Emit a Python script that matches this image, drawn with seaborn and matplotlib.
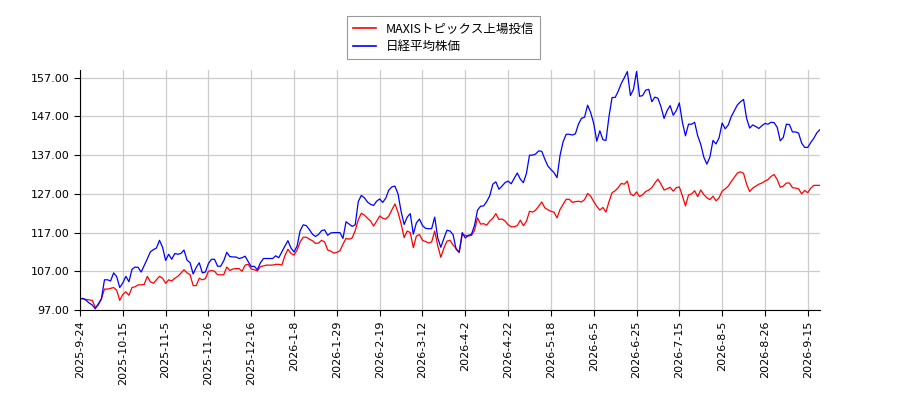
import matplotlib
matplotlib.use("Agg")
import matplotlib.pyplot as plt
import seaborn as sns
import pandas as pd
import numpy as np

series_names = ["MAXISトピックス上場投信", "日経平均株価"]

maxis = [
    99.9, 99.9, 99.7, 99.6, 99.5, 97.7, 98.3, 99.9, 102.4, 102.4,
    102.6, 102.8, 102.1, 99.5, 101.0, 101.7, 100.8, 102.8, 103.0, 103.5,
    103.5, 103.6, 105.7, 104.3, 103.9, 104.8, 105.7, 105.2, 103.9, 104.8,
    104.5, 105.2, 105.7, 106.5, 107.4, 106.6, 106.1, 103.3, 103.3, 105.2,
    104.8, 105.1, 107.0, 107.2, 107.0, 106.1, 106.1, 106.1, 108.1,
    107.2, 107.6, 107.7, 107.7, 107.0, 108.6, 108.8, 107.6, 107.4, 107.1,
    108.2, 108.4, 108.6, 108.6, 108.6, 108.8, 108.8, 108.6, 111.0, 112.7,
    111.6, 111.2, 112.5, 114.6, 115.8, 115.8, 115.3, 114.9, 114.2, 114.3,
    115.0, 114.6, 112.5, 112.2, 111.7, 111.9, 112.3, 114.0, 115.5, 115.3,
    115.6, 117.5, 120.3, 122.0, 121.5, 120.7, 120.0, 118.7, 119.9, 121.3,
    120.7, 120.5, 121.3, 122.9, 124.4, 122.2, 119.3, 115.7, 117.4, 117.0,
    113.1, 116.1, 116.5, 115.0, 114.7, 114.3, 114.6, 117.4, 113.6, 110.6,
    113.0, 114.8, 115.0, 113.8, 112.9, 111.9, 116.5, 116.3, 116.1, 116.3,
    117.5, 120.8, 119.2, 119.3, 118.9, 120.0, 120.7, 121.9, 120.4, 120.5,
    120.0, 119.0, 118.5, 118.5, 118.8, 120.2, 118.8, 119.9, 122.5,
    122.3, 122.8, 123.8, 124.9, 123.4, 122.9, 122.5, 122.3, 120.8, 123.0,
    124.3, 125.6, 125.6, 124.8, 125.0, 125.1, 124.9, 125.5, 127.1, 126.4,
    125.0, 123.8, 122.8, 123.5, 122.3, 125.0, 127.3, 127.8, 128.6, 129.7,
    129.5, 130.3, 127.0, 126.5, 127.5, 126.3, 126.8, 127.6, 128.0, 128.6,
    129.8, 130.8, 129.5, 128.0, 128.3, 128.7, 127.7, 128.6, 128.8,
    126.5, 123.9, 126.7, 127.0, 127.8, 126.3, 128.0, 126.8, 126.0, 125.5,
    126.4, 125.2, 126.0, 127.7, 128.3, 129.0, 130.2, 131.3, 132.4, 132.7,
    132.3, 129.5, 127.6, 128.5, 129.0, 129.5, 129.8, 130.3, 130.7, 131.5,
    132.0, 130.7, 128.7, 129.0, 129.8, 129.8, 128.6, 128.5, 128.3, 127.0,
    127.9, 127.3, 128.5, 129.2, 129.2, 129.2,
]

nikkei = [
    99.9, 100.0, 99.5, 98.8, 98.3, 97.3, 98.6, 99.9, 104.8, 104.8,
    104.5, 106.6, 105.6, 102.8, 104.0, 105.7, 104.3, 107.5, 108.1, 108.0,
    106.8, 108.5, 110.2, 112.0, 112.6, 113.0, 115.0, 113.2, 109.8, 111.4,
    110.1, 111.6, 111.4, 111.6, 112.5, 109.9, 109.2, 106.3, 108.0, 109.2,
    106.6, 106.8, 109.0, 110.1, 110.1, 108.3, 108.3, 109.7, 111.9,
    110.8, 110.7, 110.7, 110.3, 110.5, 110.9, 109.5, 108.2, 108.3, 107.4,
    109.2, 110.3, 110.3, 110.3, 110.3, 111.0, 110.5, 112.0, 113.5, 114.9,
    113.0, 112.0, 113.5, 117.5, 119.0, 118.8, 117.8, 116.6, 116.0, 116.5,
    117.5, 117.7, 116.3, 116.9, 117.0, 117.0, 117.0, 115.5, 119.8, 119.2,
    118.6, 119.0, 125.0, 126.6, 126.0, 124.9, 124.3, 124.0, 125.1, 125.7,
    124.8, 125.9, 128.0, 128.8, 129.0, 127.0, 122.5, 119.1, 121.0, 121.9,
    116.6, 119.5, 120.5, 118.8, 118.1, 118.0, 118.0, 121.0, 115.6, 113.2,
    115.5, 117.6, 117.4, 116.5, 112.7, 111.9, 117.0, 115.6, 116.3, 116.5,
    118.8, 122.8, 123.8, 123.9, 125.0, 126.5, 129.5, 130.1, 128.2, 129.0,
    129.9, 130.3, 129.6, 131.0, 132.4, 130.8, 129.9, 132.3, 137.0,
    137.0, 137.3, 138.1, 138.0, 136.0, 134.2, 133.3, 132.5, 131.2, 137.0,
    140.5, 142.4, 142.4, 142.2, 142.5, 145.0, 146.5, 146.8, 149.9, 148.0,
    145.2, 140.6, 143.3, 141.0, 140.8, 147.0, 151.9, 151.9, 153.5, 155.5,
    157.0, 158.6, 152.4, 154.0, 158.6, 152.2, 152.4, 153.8, 154.0, 150.8,
    152.0, 151.7, 149.5, 146.5, 148.5, 149.8, 147.3, 148.5, 150.5,
    145.5, 142.0, 145.0, 145.0, 145.5, 142.0, 139.8, 136.5, 134.7, 136.5,
    140.8, 139.9, 141.5, 145.3, 143.8, 144.8, 147.0, 148.5, 150.0, 150.8,
    151.4, 146.5, 144.0, 144.8, 144.4, 143.9, 144.6, 145.2, 145.0, 145.5,
    145.4, 144.2, 140.7, 141.6, 145.0, 144.9, 143.0, 143.0, 142.7, 140.1,
    139.0, 139.0, 140.3, 141.4, 142.8, 143.6,
]

tick_labels = [
    "2025-9-24", "2025-10-15", "2025-11-5", "2025-11-26", "2025-12-16",
    "2026-1-8", "2026-1-29", "2026-2-19", "2026-3-12", "2026-4-2",
    "2026-4-22", "2026-5-18", "2026-6-5", "2026-6-25", "2026-7-15",
    "2026-8-5", "2026-8-26", "2026-9-15",
]
y_ticks = [97.0, 107.0, 117.0, 127.0, 137.0, 147.0, 157.0]

n = len(maxis)
df = pd.DataFrame({
    "idx": list(range(n)) * 2,
    "value": maxis + nikkei,
    "series": [series_names[0]] * n + [series_names[1]] * n,
})

fig = plt.figure(figsize=(9, 4), dpi=100)
ax = fig.add_axes([80 / 900, 1 - 310 / 400, 740 / 900, 240 / 400])

sns.lineplot(data=df, x="idx", y="value", hue="series",
             palette={series_names[0]: "#ff0000", series_names[1]: "#0000ff"},
             linewidth=0.9, ax=ax, legend=True)

ax.set_xlim(0, n - 1)
ax.set_ylim(97.0, 159.0)
step = 14
ax.set_xticks([i * step for i in range(len(tick_labels))])
ax.set_xticklabels(tick_labels, rotation=90, fontsize=8, family="DejaVu Sans")
ax.set_yticks(y_ticks)
ax.set_yticklabels([f"{v:.2f}" for v in y_ticks], fontsize=8)
ax.grid(True, color="#cccccc", linewidth=0.9)
ax.set_axisbelow(True)
ax.set_xlabel("")
ax.set_ylabel("")
for s in ["top", "right"]:
    ax.spines[s].set_visible(False)
ax.tick_params(length=4, width=0.8)

handles, labels = ax.get_legend_handles_labels()
ax.legend_.remove()
leg = fig.legend(handles, labels, loc="upper center", bbox_to_anchor=(0.493, 0.975),
                 prop={"family": ["Noto Sans CJK JP", "DejaVu Sans"], "size": 9},
                 frameon=True, fancybox=False, edgecolor="#808080",
                 handlelength=1.8, borderpad=0.5, labelspacing=0.35)
leg.get_frame().set_linewidth(0.8)
for h in leg.get_lines():
    h.set_linewidth(1.2)

fig.savefig("out.png", dpi=100)
